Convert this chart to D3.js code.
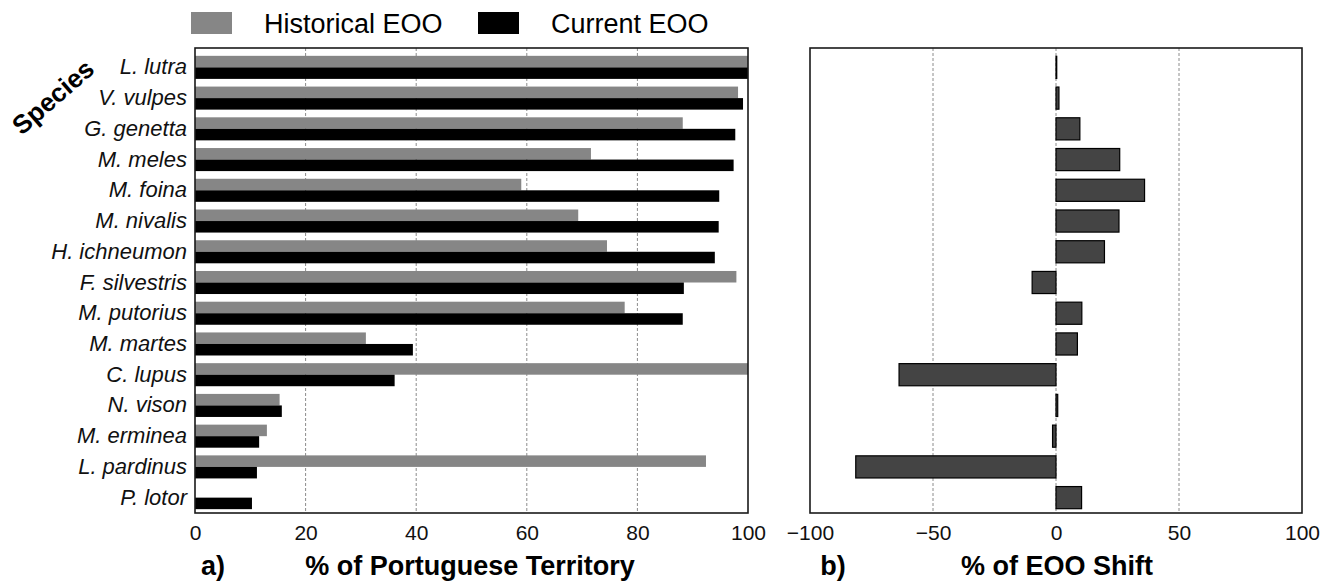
<!DOCTYPE html>
<html>
<head>
<meta charset="utf-8">
<script src="https://cdn.jsdelivr.net/npm/d3@7"></script>
<style>
  body { margin: 0; background: #fff; }
  svg { display: block; font-family: 'Liberation Sans', Arial, sans-serif; }
  .grid line { stroke: #8c8c8c; stroke-dasharray: 3,2; stroke-width: 1; }
</style>
</head>
<body>
<svg width="1337" height="582"></svg>
<script>
// values
const species = ['L. lutra', 'V. vulpes', 'G. genetta', 'M. meles', 'M. foina', 'M. nivalis',
  'H. ichneumon', 'F. silvestris', 'M. putorius', 'M. martes', 'C. lupus', 'N. vison',
  'M. erminea', 'L. pardinus', 'P. lotor'];
const historical = [100, 98.2, 88.2, 71.6, 59.0, 69.3, 74.5, 97.9, 77.7, 30.9, 100, 15.3, 13.0, 92.4, 0];
const current = [100, 99.1, 97.7, 97.4, 94.8, 94.7, 94.0, 88.4, 88.2, 39.4, 36.1, 15.7, 11.6, 11.2, 10.3];
const shift = [0.3, 1.2, 9.7, 25.9, 36.0, 25.6, 19.7, -9.7, 10.5, 8.7, -63.8, 0.7, -1.4, -81.4, 10.4];
const leftTicks = [0, 20, 40, 60, 80, 100];
const rightTicks = [-100, -50, 0, 50, 100];
const seriesNames = ['Historical EOO', 'Current EOO'];
const seriesColors = ['#868686', '#000000'];

const svg = d3.select('svg');
const yTop = 48;
const yBottom = 513;

const y = d3.scaleBand()
  .domain(species)
  .range([52, yBottom]);

const sub = d3.scaleBand()
  .domain(['hist', 'curr'])
  .range([y.bandwidth() * 0.125, y.bandwidth() * 0.875]);

const xL = d3.scaleLinear().domain([0, 100]).range([195, 748]);
const xR = d3.scaleLinear().domain([-100, 100]).range([810, 1302]);

const rows = species.map((s, i) => ({
  name: s, hist: historical[i], curr: current[i], shift: shift[i]
}));

// ---- panel a
const gA = svg.append('g');

gA.append('g')
  .attr('class', 'grid')
  .selectAll('line')
  .data(leftTicks.filter(t => t > 0 && t < 100))
  .enter()
  .append('line')
  .attr('x1', d => xL(d))
  .attr('x2', d => xL(d))
  .attr('y1', yTop)
  .attr('y2', yBottom);

gA.append('g')
  .selectAll('rect')
  .data(rows)
  .enter()
  .append('rect')
  .attr('x', xL(0))
  .attr('y', d => y(d.name) + sub('hist'))
  .attr('width', d => xL(d.hist) - xL(0))
  .attr('height', sub.bandwidth())
  .attr('fill', seriesColors[0]);

gA.append('g')
  .selectAll('rect')
  .data(rows)
  .enter()
  .append('rect')
  .attr('x', xL(0))
  .attr('y', d => y(d.name) + sub('curr'))
  .attr('width', d => xL(d.curr) - xL(0))
  .attr('height', sub.bandwidth())
  .attr('fill', seriesColors[1]);

gA.append('rect')
  .attr('x', xL(0))
  .attr('y', yTop)
  .attr('width', xL(100) - xL(0))
  .attr('height', yBottom - yTop)
  .attr('fill', 'none')
  .attr('stroke', '#1a1a1a')
  .attr('stroke-width', 1.6);

const axL = gA.append('g')
  .attr('transform', `translate(0,${yBottom})`)
  .call(d3.axisBottom(xL).tickValues(leftTicks).tickSize(0).tickPadding(12));
axL.select('.domain').remove();
axL.selectAll('text').attr('font-size', 21).attr('fill', '#111').attr('font-family', null);

const axY = gA.append('g')
  .attr('transform', `translate(${xL(0)},0)`)
  .call(d3.axisLeft(y).tickSize(0).tickPadding(8));
axY.select('.domain').remove();
axY.selectAll('text')
  .attr('font-size', 22)
  .attr('font-style', 'italic')
  .attr('fill', '#111')
  .attr('font-family', null);

svg.append('text')
  .attr('transform', 'translate(53,97) rotate(-41)')
  .attr('text-anchor', 'middle')
  .attr('dominant-baseline', 'central')
  .attr('font-size', 26)
  .attr('font-weight', 'bold')
  .text('Species');

svg.append('text')
  .attr('x', 213).attr('y', 575)
  .attr('text-anchor', 'middle')
  .attr('font-size', 27).attr('font-weight', 'bold')
  .text('a)');

svg.append('text')
  .attr('x', 470).attr('y', 575)
  .attr('text-anchor', 'middle')
  .attr('font-size', 27).attr('font-weight', 'bold')
  .text('% of Portuguese Territory');

// ---- legend
const legX = [191, 478];
const leg = svg.append('g')
  .selectAll('g')
  .data(seriesNames)
  .enter()
  .append('g')
  .attr('transform', (d, i) => `translate(${legX[i]},12)`);
leg.append('rect')
  .attr('width', 41)
  .attr('height', 22)
  .attr('fill', (d, i) => seriesColors[i]);
leg.append('text')
  .attr('x', 73)
  .attr('y', 21)
  .attr('font-size', 27)
  .text(d => d);

// ---- panel b
const gB = svg.append('g');

gB.append('g')
  .attr('class', 'grid')
  .selectAll('line')
  .data(rightTicks.filter(t => t > -100 && t < 100))
  .enter()
  .append('line')
  .attr('x1', d => xR(d))
  .attr('x2', d => xR(d))
  .attr('y1', yTop)
  .attr('y2', yBottom);

gB.append('g')
  .selectAll('rect')
  .data(rows)
  .enter()
  .append('rect')
  .attr('x', d => xR(Math.min(0, d.shift)))
  .attr('y', d => y(d.name) + y.bandwidth() * 0.14)
  .attr('width', d => Math.abs(xR(d.shift) - xR(0)))
  .attr('height', y.bandwidth() * 0.72)
  .attr('fill', '#444')
  .attr('stroke', '#000')
  .attr('stroke-width', 1.2);

gB.append('rect')
  .attr('x', xR(-100))
  .attr('y', yTop)
  .attr('width', xR(100) - xR(-100))
  .attr('height', yBottom - yTop)
  .attr('fill', 'none')
  .attr('stroke', '#1a1a1a')
  .attr('stroke-width', 1.6);

const axR = gB.append('g')
  .attr('transform', `translate(0,${yBottom})`)
  .call(d3.axisBottom(xR).tickValues(rightTicks).tickSize(0).tickPadding(12)
    .tickFormat(d3.format('d')));
axR.select('.domain').remove();
axR.selectAll('text')
  .attr('font-size', 21).attr('fill', '#111').attr('font-family', null)
  .text(d => (d < 0 ? `\u2212${Math.abs(d)}` : d));

svg.append('text')
  .attr('x', 833).attr('y', 575)
  .attr('text-anchor', 'middle')
  .attr('font-size', 27).attr('font-weight', 'bold')
  .text('b)');

svg.append('text')
  .attr('x', 1057).attr('y', 575)
  .attr('text-anchor', 'middle')
  .attr('font-size', 27).attr('font-weight', 'bold')
  .text('% of EOO Shift');
</script>
</body>
</html>
